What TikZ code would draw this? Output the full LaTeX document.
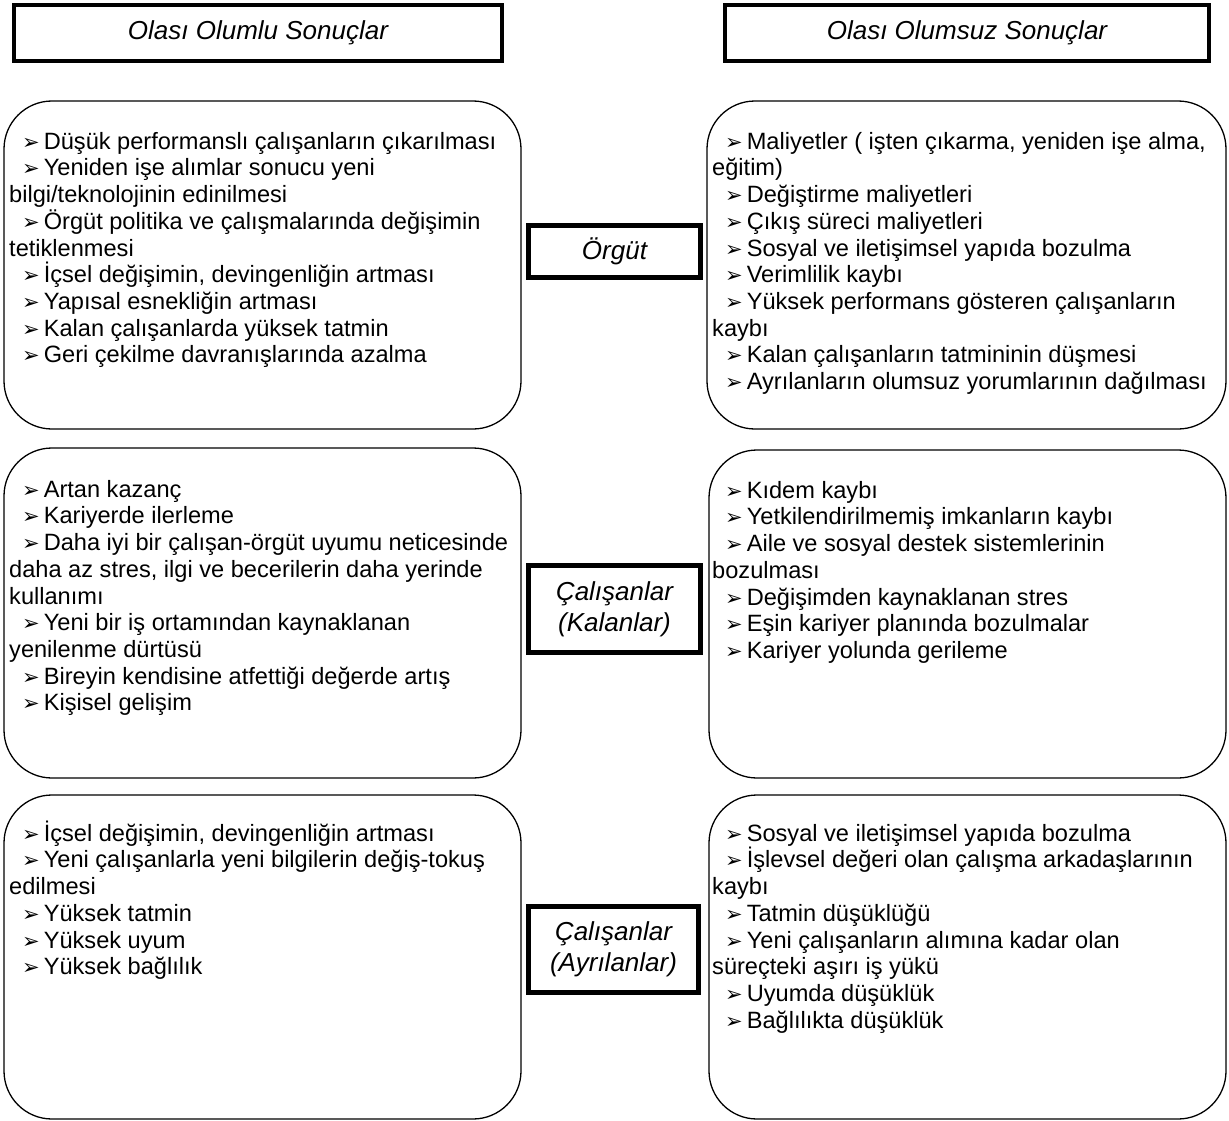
\documentclass[tikz,border=0pt]{standalone}
\usepackage{fontspec}
\setmainfont{Liberation Sans}
\newfontfamily\dvfont{DejaVu Sans}
\newcommand{\bul}{\hspace*{13pt}{\dvfont\fontsize{21}{20}\selectfont ➢}\hspace{4pt}}
\newcommand{\fstrut}{\rule{0pt}{22pt}}
\tikzset{
  hdr/.style={draw, line width=4pt, inner sep=0pt, minimum height=56pt,
    font=\fontsize{26}{30}\selectfont\itshape},
  cbox/.style={draw, rounded corners=48pt, line width=1.3pt, inner sep=0pt},
  lab/.style={draw, line width=5pt, inner sep=0pt, align=center,
    font=\fontsize{26}{31}\selectfont\itshape},
  txt/.style={anchor=north west, align=left, inner sep=0pt,
    font=\fontsize{23.6}{26.7}\selectfont}
}
\begin{document}
\begin{tikzpicture}[x=1pt,y=-1pt]
\useasboundingbox (0,0) rectangle (1229,1121);
\fill[white] (0,0) rectangle (1229,1121);

% headers
\node[hdr, minimum width=488pt] (hl) at (258,33) {Olası Olumlu Sonuçlar};
\node[hdr, minimum width=484pt] (hr) at (967,33) {Olası Olumsuz Sonuçlar};

% rounded boxes
\node[cbox, minimum width=517pt, minimum height=328pt] (tl) at (262.5,265) {};
\node[cbox, minimum width=519pt, minimum height=328pt] (tr) at (966.5,265) {};
\node[cbox, minimum width=517pt, minimum height=330pt] (ml) at (262.5,613) {};
\node[cbox, minimum width=517pt, minimum height=328pt] (mr) at (967.5,614) {};
\node[cbox, minimum width=517pt, minimum height=324pt] (bl) at (262.5,957) {};
\node[cbox, minimum width=517pt, minimum height=324pt] (br) at (967.5,957) {};

% center labels
\node[lab, minimum width=172pt, minimum height=52pt] (org) at (614.5,251.5) {Örgüt};
\node[lab, minimum width=172pt, minimum height=87pt] (kal) at (614.5,609) {Çalışanlar\\(Kalanlar)};
\node[lab, minimum width=170pt, minimum height=86pt] (ayr) at (613.5,949.5) {Çalışanlar\\(Ayrılanlar)};

% texts
\node[txt] (tlt) at (9,127) {\fstrut\bul Düşük performanslı çalışanların çıkarılması\\
\bul Yeniden işe alımlar sonucu yeni\\
bilgi/teknolojinin edinilmesi\\
\bul Örgüt politika ve çalışmalarında değişimin\\
tetiklenmesi\\
\bul İçsel değişimin, devingenliğin artması\\
\bul Yapısal esnekliğin artması\\
\bul Kalan çalışanlarda yüksek tatmin\\
\bul Geri çekilme davranışlarında azalma};

\node[txt] (trt) at (712,127) {\fstrut\bul Maliyetler ( işten çıkarma, yeniden işe alma,\\
eğitim)\\
\bul Değiştirme maliyetleri\\
\bul Çıkış süreci maliyetleri\\
\bul Sosyal ve iletişimsel yapıda bozulma\\
\bul Verimlilik kaybı\\
\bul Yüksek performans gösteren çalışanların\\
kaybı\\
\bul Kalan çalışanların tatmininin düşmesi\\
\bul Ayrılanların olumsuz yorumlarının dağılması};

\node[txt] (mlt) at (9,475) {\fstrut\bul Artan kazanç\\
\bul Kariyerde ilerleme\\
\bul Daha iyi bir çalışan-örgüt uyumu neticesinde\\
daha az stres, ilgi ve becerilerin daha yerinde\\
kullanımı\\
\bul Yeni bir iş ortamından kaynaklanan\\
yenilenme dürtüsü\\
\bul Bireyin kendisine atfettiği değerde artış\\
\bul Kişisel gelişim};

\node[txt] (mrt) at (712,476) {\fstrut\bul Kıdem kaybı\\
\bul Yetkilendirilmemiş imkanların kaybı\\
\bul Aile ve sosyal destek sistemlerinin\\
bozulması\\
\bul Değişimden kaynaklanan stres\\
\bul Eşin kariyer planında bozulmalar\\
\bul Kariyer yolunda gerileme};

\node[txt] (blt) at (9,819) {\fstrut\bul İçsel değişimin, devingenliğin artması\\
\bul Yeni çalışanlarla yeni bilgilerin değiş-tokuş\\
edilmesi\\
\bul Yüksek tatmin\\
\bul Yüksek uyum\\
\bul Yüksek bağlılık};

\node[txt] (brt) at (712,819) {\fstrut\bul Sosyal ve iletişimsel yapıda bozulma\\
\bul İşlevsel değeri olan çalışma arkadaşlarının\\
kaybı\\
\bul Tatmin düşüklüğü\\
\bul Yeni çalışanların alımına kadar olan\\
süreçteki aşırı iş yükü\\
\bul Uyumda düşüklük\\
\bul Bağlılıkta düşüklük};
\end{tikzpicture}
\end{document}
